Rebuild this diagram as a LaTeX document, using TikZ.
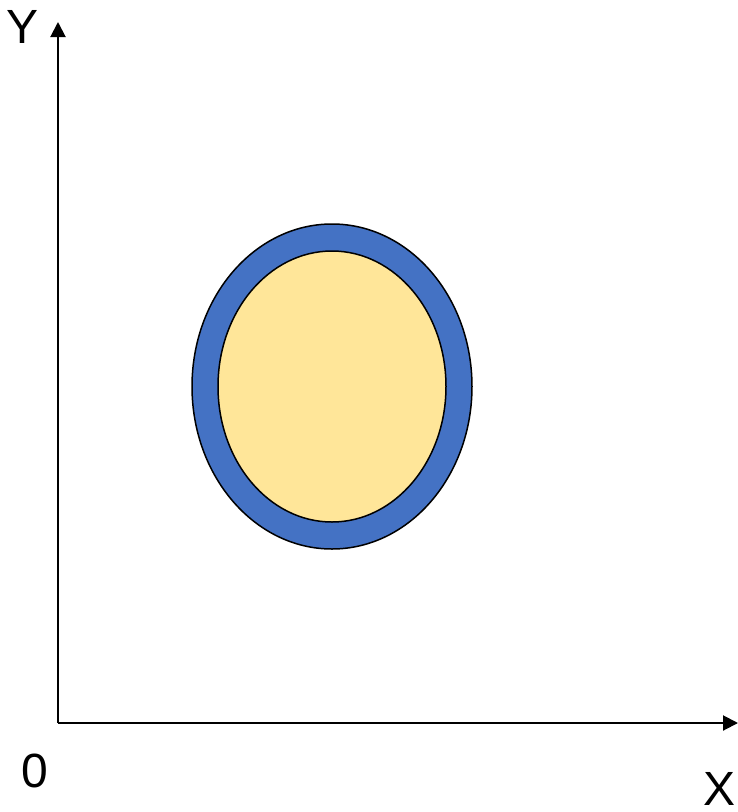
\documentclass[tikz,border=0pt]{standalone}
\usepackage{fontspec}
\setmainfont{Liberation Sans}
\usetikzlibrary{arrows.meta,shapes.geometric}
\definecolor{ringblue}{HTML}{4472C4}
\definecolor{coreyellow}{HTML}{FFE699}
\tikzset{
  axis/.style={line width=2pt,-{Triangle[length=15pt,width=15pt]}},
  lbl/.style={inner sep=0pt,font=\fontsize{48}{48}\selectfont},
  ring/.style={ellipse,draw=black,line width=1.5pt,fill=ringblue,inner sep=0pt},
  core/.style={ellipse,draw=black,line width=1.5pt,fill=coreyellow,inner sep=0pt}
}
\begin{document}
\begin{tikzpicture}[x=1pt,y=-1pt]
\useasboundingbox (0,0) rectangle (738,812);
\coordinate (o) at (58,723);
\coordinate (ytip) at (58,22);
\coordinate (xtip) at (738,723);
\draw[axis] (o) -- (ytip);
\draw[axis] (o) -- (xtip);
\node[ring,minimum width=280pt,minimum height=325pt] (outer) at (332,386.5) {};
\node[core,minimum width=228pt,minimum height=271pt] (inner) at (332,386.5) {};
\node[lbl] (ylab) at (23,27) {Y};
\node[lbl] (xlab) at (720,789) {X};
\node[lbl] (zero) at (35,771) {0};
\end{tikzpicture}
\end{document}
